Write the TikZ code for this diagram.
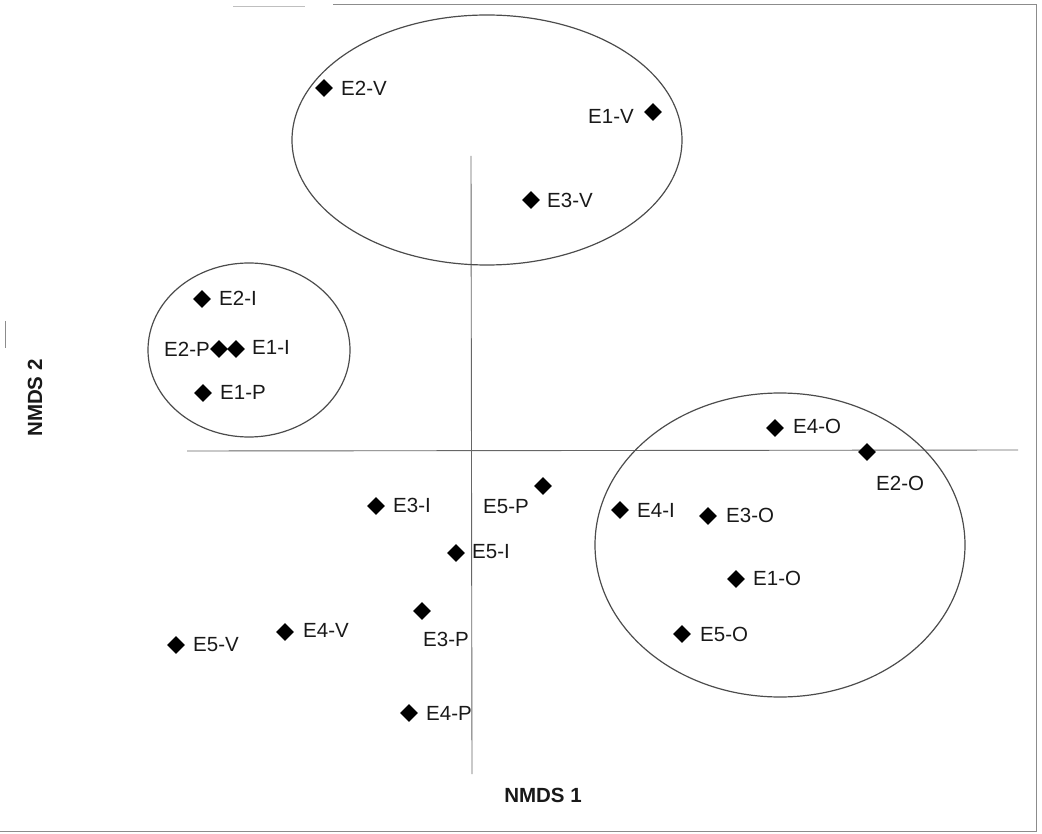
\documentclass[tikz,border=0pt]{standalone}
\usepackage{fontspec}
\setmainfont{Liberation Sans}
\usetikzlibrary{shapes.geometric}
\begin{document}
\begin{tikzpicture}[x=1pt,y=-1pt,
  pt/.style={diamond,fill=black,inner sep=0pt,minimum width=18pt,minimum height=18pt},
  lab/.style={anchor=west,inner sep=0pt,font=\fontsize{20.5}{22}\selectfont,text=black!90},
  axlab/.style={inner sep=0pt,font=\fontsize{20.5}{22}\selectfont\bfseries,text=black!90},
  axis/.style={draw=black!60,line width=0.9pt},
  grp/.style={draw=black!70,line width=1.2pt},
  frame/.style={draw=black!45,line width=1pt}]
\useasboundingbox (0,0) rectangle (1042,834);
% frame remnants
\draw[frame] (333,5) -- (1036,5) -- (1036,831) -- (0,831);
\draw[frame,draw=black!25] (233,7) -- (305,7);
\draw[frame] (5,321) -- (5,348);
% axes
\coordinate (hl) at (187,451);
\coordinate (hr) at (1018,450);
\coordinate (vt) at (471,156);
\coordinate (vb) at (472,774);
\draw[axis] (hl) -- (hr);
\draw[axis] (vt) -- (vb);
% group ellipses
\draw[grp] (487,140) ellipse [x radius=195, y radius=125];
\draw[grp] (249,350) ellipse [x radius=101, y radius=87];
\draw[grp] (780,545) ellipse [x radius=185, y radius=152];
% points
\node[pt] (p2V) at (324,88) {};
\node[pt] (p1V) at (653,112) {};
\node[pt] (p3V) at (531,200) {};
\node[pt] (p2I) at (202,299) {};
\node[pt] (p2P) at (219,349) {};
\node[pt] (p1I) at (236,349) {};
\node[pt] (p1P) at (203,393) {};
\node[pt] (p4O) at (775,428) {};
\node[pt] (p2O) at (867,452) {};
\node[pt] (p5P) at (543,486) {};
\node[pt] (p3I) at (376,506) {};
\node[pt] (p4I) at (620,510) {};
\node[pt] (p3O) at (708,516) {};
\node[pt] (p5I) at (456,553) {};
\node[pt] (p1O) at (736,579) {};
\node[pt] (p3P) at (422,611) {};
\node[pt] (p5O) at (682,634) {};
\node[pt] (p4V) at (285,632) {};
\node[pt] (p5V) at (176,645) {};
\node[pt] (p4P) at (409,713) {};
% labels
\node[lab] (l2V) at (341,88) {E2-V};
\node[lab,anchor=east] (l1V) at (634,116) {E1-V};
\node[lab] (l3V) at (547,200) {E3-V};
\node[lab] (l2I) at (219,298) {E2-I};
\node[lab,anchor=east] (l2P) at (210,349) {E2-P};
\node[lab] (l1I) at (252,347) {E1-I};
\node[lab] (l1P) at (220,392) {E1-P};
\node[lab] (l4O) at (793,426) {E4-O};
\node[lab] (l2O) at (876,483) {E2-O};
\node[lab] (l5P) at (483,507) {E5-P};
\node[lab] (l3I) at (393,505) {E3-I};
\node[lab] (l4I) at (637,510) {E4-I};
\node[lab] (l3O) at (726,515) {E3-O};
\node[lab] (l5I) at (472,552) {E5-I};
\node[lab] (l1O) at (753,578) {E1-O};
\node[lab] (l3P) at (423,639) {E3-P};
\node[lab] (l5O) at (700,634) {E5-O};
\node[lab] (l4V) at (303,630) {E4-V};
\node[lab] (l5V) at (193,645) {E5-V};
\node[lab] (l4P) at (426,713) {E4-P};
% axis titles
\node[axlab] (x1) at (543,795) {NMDS 1};
\node[axlab,rotate=90] (x2) at (35,398) {NMDS 2};
\end{tikzpicture}
\end{document}
